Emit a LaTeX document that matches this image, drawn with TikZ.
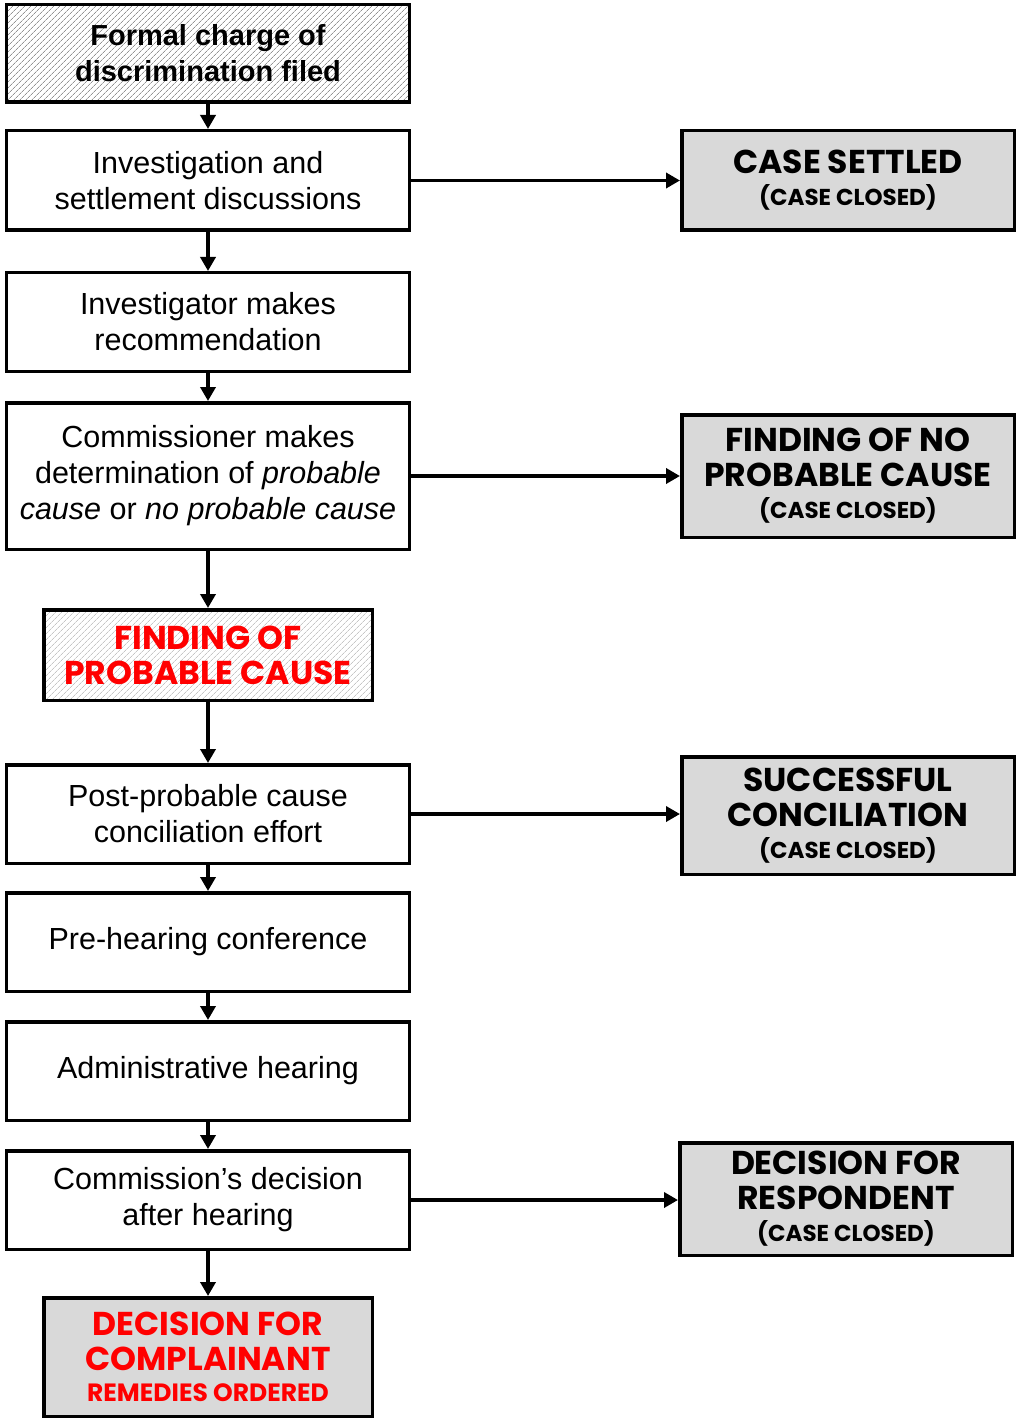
\documentclass[tikz,border=0pt]{standalone}
\usepackage{fontspec}
\setmainfont{Liberation Sans}
\newfontfamily\hfont{Poppins}
\usetikzlibrary{arrows.meta,patterns.meta}
\definecolor{boxgray}{HTML}{D9D9D9}
\tikzset{
  box/.style={draw=black,line width=3.5pt,inner sep=0pt,align=center,font=\fontsize{30.5}{36}\selectfont},
  hatch/.style={box,pattern={Lines[angle=45,distance=4pt,line width=0.7pt]},pattern color=#1},
  graybox/.style={box,fill=boxgray},
  arr/.style={line width=3.7pt,-{Triangle[length=14pt,width=15pt]}},
  big/.style={font=\hfont\bfseries\fontsize{33}{35}\selectfont},
}
\newcommand{\smallcc}[1]{\\[-3pt]{\fontsize{23}{24}\selectfont #1}}
\newcommand{\smallrr}[1]{\\[-4pt]{\fontsize{25}{26}\selectfont #1}}
\begin{document}
\begin{tikzpicture}[x=1pt,y=-1pt]
\useasboundingbox (0,0) rectangle (1018,1420);
\node[hatch=gray!85,minimum width=403,minimum height=97.5,font=\bfseries\fontsize{29}{36}\selectfont] (a) at (208,53.5) {Formal charge of\\discrimination filed};
\node[box,minimum width=403,minimum height=99.5] (b) at (208,180.5) {Investigation and\\settlement discussions};
\node[box,minimum width=403,minimum height=98.5] (c) at (208,322) {Investigator makes\\recommendation};
\node[box,minimum width=403,minimum height=146.5] (d) at (208,476) {Commissioner makes\\determination of \textit{probable}\\\textit{cause} or \textit{no probable cause}};
\node[hatch=gray!45,minimum width=328.5,minimum height=90.5,big,text=red] (e) at (208,655) {FINDING OF\\PROBABLE CAUSE};
\node[box,minimum width=403,minimum height=98.5] (f) at (208,814) {Post-probable cause\\conciliation effort};
\node[box,minimum width=403,minimum height=98.5] (g) at (208,942) {Pre-hearing conference};
\node[box,minimum width=403,minimum height=98.5] (h) at (208,1071) {Administrative hearing};
\node[box,minimum width=403,minimum height=98.5] (i) at (208,1200) {Commission’s decision\\after hearing};
\node[graybox,minimum width=328.5,minimum height=118.5,big,text=red] (j) at (208,1357) {DECISION FOR\\COMPLAINANT\smallrr{REMEDIES ORDERED}};
\node[graybox,minimum width=332.5,minimum height=99.5,big] (r1) at (848,180.5) {CASE SETTLED\smallcc{(CASE CLOSED)}};
\node[graybox,minimum width=332.5,minimum height=122.5,big] (r2) at (848,476) {FINDING OF NO\\PROBABLE CAUSE\smallcc{(CASE CLOSED)}};
\node[graybox,minimum width=332.5,minimum height=117.5,big] (r3) at (848,815.5) {SUCCESSFUL\\CONCILIATION\smallcc{(CASE CLOSED)}};
\node[graybox,minimum width=332.5,minimum height=112.5,big] (r4) at (846,1199) {DECISION FOR\\RESPONDENT\smallcc{(CASE CLOSED)}};
\foreach \u/\v in {a/b,b/c,c/d,d/e,e/f,f/g,g/h,h/i,i/j}
  \draw[arr] (\u.south) -- (\v.north);
\draw[arr] (b.east) -- (b.east -| r1.west);
\draw[arr] (d.east) -- (d.east -| r2.west);
\draw[arr] (f.east) -- (f.east -| r3.west);
\draw[arr] (i.east) -- (i.east -| r4.west);
\end{tikzpicture}
\end{document}
